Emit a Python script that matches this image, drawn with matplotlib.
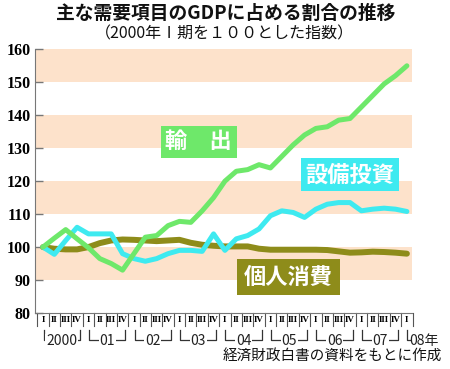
import matplotlib
matplotlib.use("Agg")
import matplotlib.pyplot as plt
import matplotlib.transforms as mtransforms

plt.rcParams['font.family'] = ['Noto Sans CJK JP', 'DejaVu Sans']

# 2000 I .. 2008 I (quarterly index, 2000 I = 100)
quarters = ["I", "II", "III", "IV"] * 8 + ["I"]
years = ["2000", "01", "02", "03", "04", "05", "06", "07"]

exports = [100, 102.7, 105.3, 102.5, 99.8, 96.5, 95, 93,
           98, 103, 103.5, 106.5, 107.8, 107.5, 111, 115,
           120, 123, 123.5, 125, 124, 127.5, 131, 134,
           136, 136.5, 138.5, 139, 142.5, 146, 149.5, 152, 155]
investment = [100, 97.8, 102, 106, 104, 104, 104, 98,
              96.5, 95.7, 96.5, 98, 99, 99, 98.7, 104,
              99, 102.5, 103.5, 105.5, 109.5, 111, 110.5, 109,
              111.5, 113, 113.5, 113.5, 111, 111.5, 111.8, 111.5, 110.8]
consumption = [100, 99.5, 99.3, 99.3, 100, 101.2, 102, 102.3,
               102.2, 102, 101.8, 102, 102.2, 101.3, 100.7, 100.4,
               100.2, 100.2, 100.2, 99.5, 99.2, 99.2, 99.2, 99.2,
               99.2, 99.1, 98.7, 98.3, 98.4, 98.6, 98.5, 98.3, 98]

green = "#6ee86a"
cyan = "#3eeaf0"
olive = "#8e8c1a"
peach = "#fde2cb"

fig = plt.figure(figsize=(4.5, 3.69), dpi=100)
ax = fig.add_axes([35 / 450, 1 - 313 / 369, (412 - 35) / 450, (313 - 49.3) / 369])

x = list(range(len(exports)))

for lo in [90, 110, 130, 150]:
    ax.axhspan(lo, lo + 10, color=peach, lw=0, zorder=0)

ax.plot(x, consumption, color=olive, lw=4.3, solid_capstyle="round", zorder=3)
ax.plot(x, investment, color=cyan, lw=3.6, solid_capstyle="round", zorder=4)
ax.plot(x, exports, color=green, lw=3.6, solid_capstyle="round", zorder=5)

ax.set_xlim(-0.7, 32.45)
ax.set_ylim(80, 160)
ax.set_yticks(range(80, 161, 10))
ax.set_yticklabels([str(v) for v in range(80, 161, 10)],
                   family="Liberation Serif", fontsize=11.5, fontweight="bold")
ax.tick_params(axis="y", direction="in", length=6, width=1, color="#777777", pad=3)

ax.set_xticks(x)
ax.set_xticklabels(quarters, family="Liberation Serif", fontsize=6.5, fontweight="bold")
ax.tick_params(axis="x", length=0, pad=2)

for s in ["top", "right"]:
    ax.spines[s].set_visible(False)
ax.spines["left"].set_color("#777777")
ax.spines["bottom"].set_color("#777777")

trans = mtransforms.blended_transform_factory(ax.transData, ax.transAxes)

# quarter separators below the axis
for i in range(-1, 33):
    ax.plot([i + 0.5, i + 0.5], [0, -0.05], transform=trans, color="#555555",
            lw=0.8, clip_on=False)

# year brackets
for k, yr in enumerate(years):
    a, b = 4 * k + 0.05, 4 * k + 3.25
    ax.plot([a, a, b, b], [-0.063, -0.103, -0.103, -0.063], transform=trans,
            color="#333333", lw=0.9, clip_on=False)
    ax.text(4 * k + 1.65, -0.108, yr, transform=trans, ha="center", va="center",
            fontsize=10, color="#222222",
            bbox=dict(facecolor="white", edgecolor="none", pad=0.6))
ax.plot([32, 32, 32.3], [-0.063, -0.103, -0.103], transform=trans,
        color="#333333", lw=0.9, clip_on=False)
ax.text(32.25, -0.108, "08年", transform=trans, ha="left", va="center",
        fontsize=10, color="#222222")

# series labels
ax.text(13.7, 131.9, "輸　出", ha="center", va="center", fontsize=16,
        fontweight="bold", color="white", zorder=6,
        bbox=dict(facecolor=green, edgecolor="none", boxstyle="square,pad=0.22"))
ax.text(27.0, 121.9, "設備投資", ha="center", va="center", fontsize=16,
        fontweight="bold", color="white", zorder=6,
        bbox=dict(facecolor=cyan, edgecolor="none", boxstyle="square,pad=0.22"))
ax.text(21.6, 90.9, "個人消費", ha="center", va="center", fontsize=16,
        fontweight="bold", color="white", zorder=6,
        bbox=dict(facecolor=olive, edgecolor="none", boxstyle="square,pad=0.3"))

fig.text(0.502, 1 - 13.5 / 369, "主な需要項目のGDPに占める割合の推移",
         ha="center", va="center", fontsize=13.5, fontweight="bold", color="#111111")
fig.text(0.498, 1 - 33.5 / 369, "（2000年Ⅰ期を１００とした指数）",
         ha="center", va="center", fontsize=11.5, color="#111111")
fig.text(442 / 450, 1 - 357 / 369, "経済財政白書の資料をもとに作成",
         ha="right", va="center", fontsize=10.5, color="#111111")

fig.savefig("out.png", dpi=100, facecolor="white")
